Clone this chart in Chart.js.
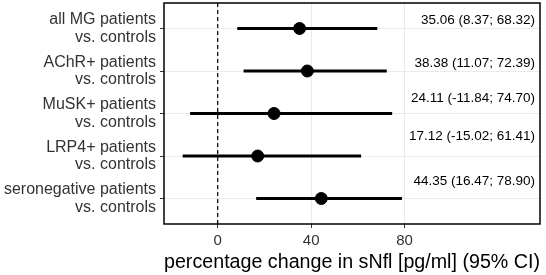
<!DOCTYPE html>
<html>
<head>
<meta charset="utf-8">
<script src="https://cdn.jsdelivr.net/npm/chart.js@4.4.1/dist/chart.umd.min.js"></script>
<style>
  body { margin: 0; background: #fff; }
  #wrap { width: 546px; height: 275px; }
</style>
</head>
<body>
<div id="wrap"><canvas id="forest" width="546" height="275"></canvas></div>
<script>
// группы сравнения
const groups = [
  ['all MG patients', 'vs. controls'],
  ['AChR+ patients', 'vs. controls'],
  ['MuSK+ patients', 'vs. controls'],
  ['LRP4+ patients', 'vs. controls'],
  ['seronegative patients', 'vs. controls'],
];

// оценка и 95% ДИ
const estimates = [35.06, 38.38, 24.11, 17.12, 44.35];
const lower = [8.37, 11.07, -11.84, -15.02, 16.47];
const upper = [68.32, 72.39, 74.7, 61.41, 78.9];

const xTicks = [0, 40, 80];

// смещение подписей справа над линией (в долях строки)
const labelShift = [0.19, 0.17, 0.35, 0.47, 0.4];

const FONT = "'Liberation Sans', Arial, sans-serif";

const datasets = [];

// вертикальная пунктирная линия на нуле
datasets.push({
  type: 'line',
  data: [{ x: 0, y: 0.4 }, { x: 0, y: 5.6 }],
  borderColor: '#000',
  borderWidth: 1.2,
  borderDash: [4, 3],
  pointRadius: 0,
});

// доверительные интервалы
groups.forEach((g, i) => {
  datasets.push({
    type: 'line',
    data: [{ x: lower[i], y: i + 1 }, { x: upper[i], y: i + 1 }],
    borderColor: '#000',
    borderWidth: 2.8,
    pointRadius: 0,
  });
});

// точечные оценки
datasets.push({
  type: 'scatter',
  data: estimates.map((v, i) => ({ x: v, y: i + 1 })),
  backgroundColor: '#000',
  borderColor: '#000',
  pointRadius: 6,
  pointHoverRadius: 6,
});

const panelPlugin = {
  id: 'panel',
  afterDatasetsDraw(chart) {
    const { ctx, chartArea, scales } = chart;
    ctx.save();
    // подписи оценок
    ctx.font = '13.5px ' + FONT;
    ctx.fillStyle = '#000';
    ctx.textAlign = 'right';
    ctx.textBaseline = 'middle';
    estimates.forEach((v, i) => {
      const txt = `${v.toFixed(2)} (${lower[i].toFixed(2)}; ${upper[i].toFixed(2)})`;
      const y = scales.y.getPixelForValue(i + 1 - labelShift[i]);
      ctx.fillText(txt, chartArea.right - 5, y);
    });
    // рамка панели
    ctx.strokeStyle = '#000';
    ctx.lineWidth = 1.5;
    ctx.strokeRect(chartArea.left, chartArea.top, chartArea.right - chartArea.left, chartArea.bottom - chartArea.top);
    ctx.restore();
  },
};

new Chart(document.getElementById('forest').getContext('2d'), {
  data: { datasets },
  options: {
    responsive: false,
    animation: false,
    layout: { autoPadding: false, padding: { top: 3, right: 6, left: 0, bottom: 0 } },
    plugins: {
      legend: { display: false },
      tooltip: { enabled: false },
    },
    scales: {
      x: {
        type: 'linear',
        min: -23,
        max: 138,
        afterBuildTicks: (axis) => {
          axis.ticks = xTicks.map((v) => ({ value: v }));
        },
        afterFit: (axis) => {
          axis.height = 51;
          axis.paddingLeft = 0;
          axis.paddingRight = 0;
        },
        grid: {
          color: '#ebebeb',
          lineWidth: 1,
          tickColor: '#333',
          tickLength: 4,
        },
        border: { display: false },
        ticks: {
          color: '#333',
          font: { family: FONT, size: 15 },
          padding: 4,
          maxRotation: 0,
        },
        title: {
          display: true,
          text: 'percentage change in sNfl [pg/ml] (95% CI)',
          color: '#000',
          font: { family: FONT, size: 20 },
          padding: { top: 0, bottom: 1 },
        },
      },
      y: {
        type: 'linear',
        min: 0.4,
        max: 5.6,
        reverse: true,
        afterBuildTicks: (axis) => {
          axis.ticks = groups.map((g, i) => ({ value: i + 1 }));
        },
        afterFit: (axis) => {
          axis.width = 164;
          axis.paddingTop = 0;
          axis.paddingBottom = 0;
        },
        grid: {
          color: '#ebebeb',
          lineWidth: 1,
          tickColor: '#333',
          tickLength: 4,
        },
        border: { display: false },
        ticks: {
          color: '#333',
          font: { family: FONT, size: 16, lineHeight: 1.1 },
          padding: 4,
          callback: (v) => groups[Math.round(v) - 1] || '',
        },
      },
    },
  },
  plugins: [panelPlugin],
});
</script>
</body>
</html>
